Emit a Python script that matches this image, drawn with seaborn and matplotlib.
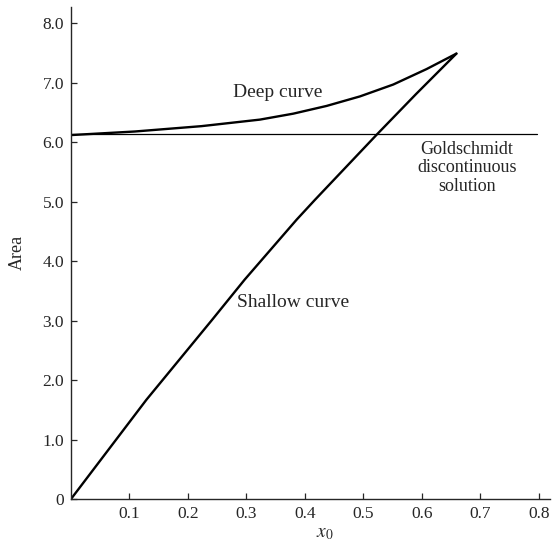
import numpy as np
import pandas as pd
from matplotlib import pyplot as plt
import seaborn as sns

sns.set_style('ticks')
plt.rcParams['font.family'] = ['Liberation Serif', 'DejaVu Serif']
plt.rcParams['mathtext.fontset'] = 'stix'

# Curves
shallow_x = [0.0, 0.129, 0.241, 0.297, 0.386, 0.417, 0.523, 0.59, 0.659]
shallow_area = [0.0, 1.67, 3.01, 3.69, 4.70, 5.03, 6.13, 6.81, 7.49]

deep_x = [0.0, 0.109, 0.223, 0.323, 0.38, 0.437, 0.494, 0.551, 0.608, 0.659]
deep_area = [6.12, 6.18, 6.27, 6.38, 6.48, 6.61, 6.77, 6.97, 7.23, 7.49]

goldschmidt_area = 6.13
goldschmidt_x = [0.0, 0.796]

x_ticks = [0.1, 0.2, 0.3, 0.4, 0.5, 0.6, 0.7, 0.8]
y_ticks = [0, 1, 2, 3, 4, 5, 6, 7, 8]
y_ticklabels = ['0', '1.0', '2.0', '3.0', '4.0', '5.0', '6.0', '7.0', '8.0']

shallow = pd.DataFrame({'x0': shallow_x, 'Area': shallow_area})
deep = pd.DataFrame({'x0': deep_x, 'Area': deep_area})

fig = plt.figure(figsize=(5.56, 5.52), dpi=100)
ax = fig.add_axes([0.1277, 0.096, 0.8615, 0.892])

sns.lineplot(data=shallow, x='x0', y='Area', color='black', lw=1.7, ax=ax)
sns.lineplot(data=deep, x='x0', y='Area', color='black', lw=1.7, ax=ax)
ax.plot(goldschmidt_x, [goldschmidt_area] * 2, color='black', lw=0.9)

ax.set_xlim(0, 0.819)
ax.set_ylim(0, 8.28)
ax.set_xticks(x_ticks)
ax.set_xticklabels(['%.1f' % t for t in x_ticks])
ax.set_yticks(y_ticks)
ax.set_yticklabels(y_ticklabels)
ax.tick_params(direction='in', length=4, width=0.9, labelsize=12.5, pad=5)
for s in ['top', 'right']:
    ax.spines[s].set_visible(False)
for s in ['left', 'bottom']:
    ax.spines[s].set_linewidth(1.0)

ax.set_xlabel('$x_0$', fontsize=14)
ax.xaxis.set_label_coords(0.53, -0.052)
ax.set_ylabel('Area', fontsize=13, labelpad=12)

ax.text(0.354, 6.83, 'Deep curve', fontsize=14, ha='center', va='center')
ax.text(0.38, 3.30, 'Shallow curve', fontsize=14, ha='center', va='center')
ax.text(0.677, 5.57, 'Goldschmidt\ndiscontinuous\nsolution', fontsize=13,
        ha='center', va='center', linespacing=1.1)

plt.savefig('out.png', dpi=100)
